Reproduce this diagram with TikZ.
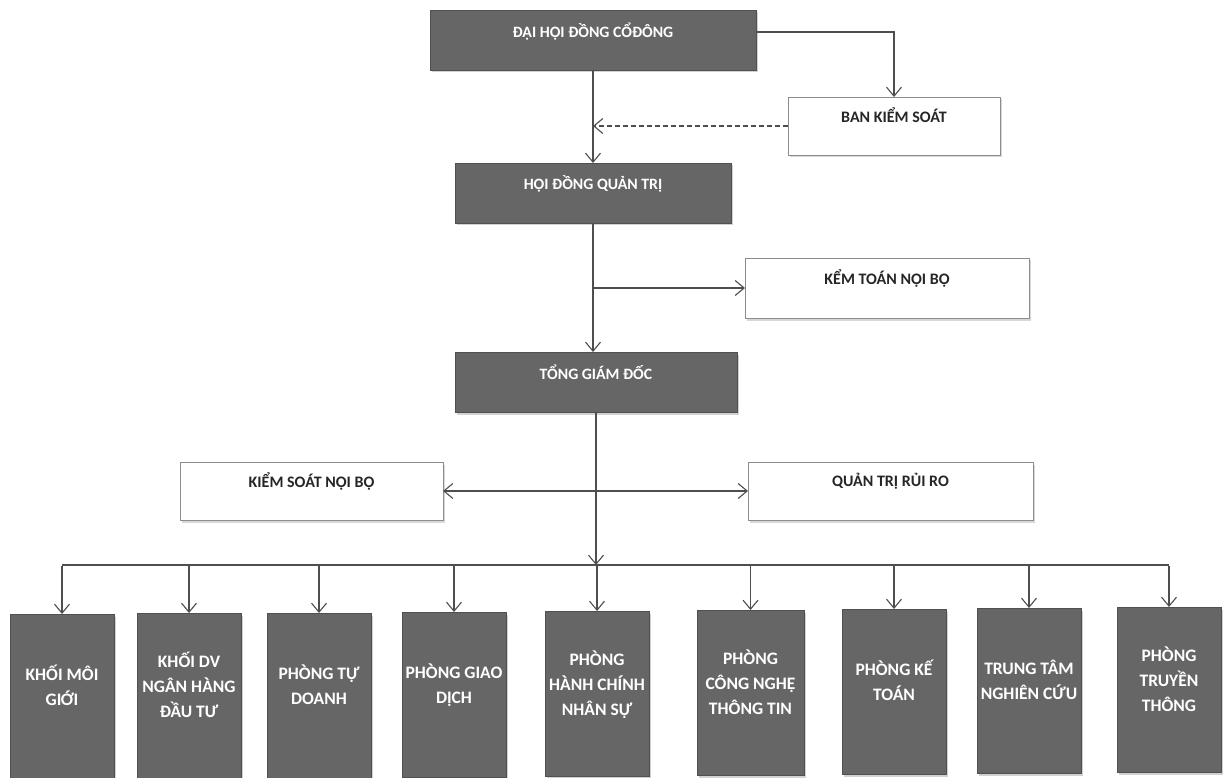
\documentclass[tikz,border=0pt]{standalone}
\usepackage{fontspec}
\setmainfont{Carlito}
\usetikzlibrary{arrows.meta,shadows}
\definecolor{boxgray}{HTML}{666666}
\definecolor{edgegray}{HTML}{505050}
\definecolor{linegray}{HTML}{4E4E4E}
\newcommand{\bt}[1]{\raisebox{4pt}[0pt][0pt]{\begin{tabular}{@{}c@{}}#1\end{tabular}}}
\begin{document}
\begin{tikzpicture}[x=1pt,y=-1pt,
  darkbox/.style={fill=boxgray, draw=edgegray, line width=0.6pt, text=white,
    inner sep=0pt, outer sep=0pt, anchor=north west, minimum height=60,
    font=\bfseries\fontsize{15.8}{18}\selectfont,
    drop shadow={shadow xshift=2pt, shadow yshift=-2.5pt, fill=black!35}},
  lightbox/.style={fill=white, draw=black!45, line width=0.6pt, text=black!85,
    inner sep=0pt, outer sep=0pt, anchor=north west, minimum height=58,
    font=\bfseries\fontsize{16}{18}\selectfont,
    drop shadow={shadow xshift=2pt, shadow yshift=-2.5pt, fill=black!30}},
  unitbox/.style={darkbox, minimum width=104, minimum height=165,
    font=\bfseries\fontsize{17.5}{25}\selectfont},
  plain/.style={draw=linegray, line width=1.3pt},
  conn/.style={plain, -{Straight Barb[length=9pt,width=15pt,line width=1.1pt]}},
  dconn/.style={plain, {Straight Barb[length=9pt,width=15pt,line width=1.1pt]}-{Straight Barb[length=9pt,width=15pt,line width=1.1pt]}}
]
\useasboundingbox[fill=white] (0,0) rectangle (1224,778);

% top chain
\node[darkbox, minimum width=326] (dhdcd) at (430,10) {\bt{ĐẠI HỘI ĐỒNG CỔĐÔNG}};
\node[lightbox, minimum width=212] (bks) at (788,97) {\bt{BAN KIỂM SOÁT}};
\node[darkbox, minimum width=276] (hdqt) at (455,163) {\bt{HỘI ĐỒNG QUẢN TRỊ}};
\node[lightbox, minimum width=284, minimum height=60] (ktnb) at (745,258) {\bt{KỂM TOÁN NỘI BỘ}};
\node[darkbox, minimum width=282] (tgd) at (455,352) {\bt{TỔNG GIÁM ĐỐC}};
\node[lightbox, minimum width=263] (ksnb) at (180,462) {\bt{KIỂM SOÁT NỘI BỘ}};
\node[lightbox, minimum width=285] (qtrr) at (748,462) {\bt{QUẢN TRỊ RỦI RO}};

% units
\node[unitbox] (k1) at (10,614)   {\bt{KHỐI MÔI\\GIỚI}};
\node[unitbox] (k2) at (137,613)  {\bt{KHỐI DV\\NGÂN HÀNG\\ĐẦU TƯ}};
\node[unitbox] (k3) at (267,613)  {\bt{PHÒNG TỰ\\DOANH}};
\node[unitbox] (k4) at (402,612)  {\bt{PHÒNG GIAO\\DỊCH}};
\node[unitbox] (k5) at (545,611)  {\bt{PHÒNG\\HÀNH CHÍNH\\NHÂN SỰ}};
\node[unitbox, minimum width=107] (k6) at (697,610)  {\bt{PHÒNG\\CÔNG NGHỆ\\THÔNG TIN}};
\node[unitbox] (k7) at (842,609)  {\bt{PHÒNG KẾ\\TOÁN}};
\node[unitbox] (k8) at (977,608)  {\bt{TRUNG TÂM\\NGHIÊN CỨU}};
\node[unitbox] (k9) at (1117,607) {\bt{PHÒNG\\TRUYỀN\\THÔNG}};

\coordinate (bus) at (596,565);

% connectors
\draw[conn] ([yshift=8pt]dhdcd.east) -| (bks.north);
\draw[conn] (dhdcd.south) -- (hdqt.north);
\draw[conn, dash pattern=on 5pt off 3pt] (bks.west) -- (bks.west -| hdqt.north);
\draw[conn] (hdqt.south) -- (tgd.north -| hdqt.south);
\draw[conn] (hdqt.south |- ktnb.west) -- (ktnb.west);
\draw[conn] (tgd.south -| bus) -- (bus);
\draw[dconn] (ksnb.east) -- (ksnb.east -| qtrr.west);
\draw[plain] (k1.north |- bus) -- (k9.north |- bus);
\foreach \k in {k1,k2,k3,k4,k5,k6,k7,k8,k9}{
  \draw[conn] ([yshift=-1pt]\k.north |- bus) -- (\k.north);
}
\end{tikzpicture}
\end{document}
